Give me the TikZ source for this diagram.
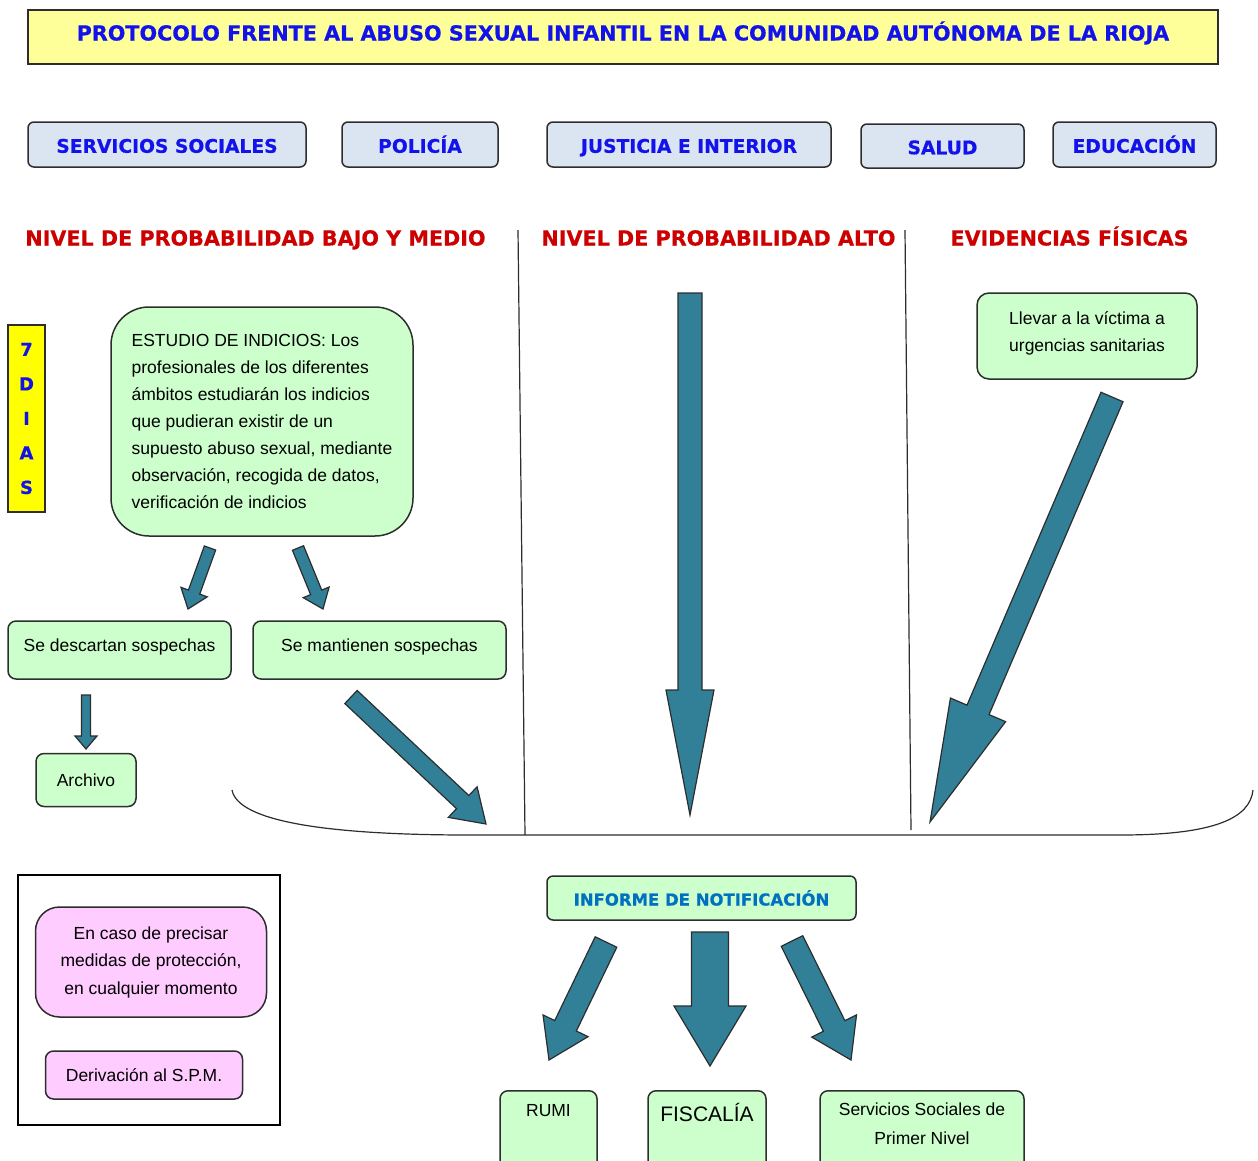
\documentclass[tikz,border=0pt]{standalone}
\usepackage{fontspec}
\setmainfont{Liberation Sans}
\newfontfamily\headfont{DejaVu Sans}[BoldFeatures={FakeBold=0.6}]
\usetikzlibrary{calc}

\definecolor{titlefill}{RGB}{255,255,153}
\definecolor{areafill}{RGB}{219,229,241}
\definecolor{boxgreen}{RGB}{204,255,204}
\definecolor{boxpink}{RGB}{255,204,255}
\definecolor{diasfill}{RGB}{255,255,0}
\definecolor{textblue}{RGB}{18,18,235}
\definecolor{textred}{RGB}{204,0,0}
\definecolor{informeblue}{RGB}{0,112,192}
\definecolor{arrowteal}{RGB}{49,128,152}
\definecolor{linegray}{RGB}{45,45,45}

\tikzset{
  titlebox/.style={draw=linegray, line width=1.5pt, fill=titlefill, inner sep=0pt,
    text height=15pt, text depth=8pt, text=textblue,
    font=\headfont\bfseries\fontsize{20.7}{24}\selectfont},
  areabox/.style={draw=linegray, line width=1.5pt, fill=areafill, rounded corners=6pt,
    minimum height=45pt, inner sep=0pt, text height=16.5pt, text depth=0pt, text=textblue,
    font=\headfont\bfseries\fontsize{18.7}{22}\selectfont},
  nivel/.style={text=textred, inner sep=0pt, text height=15pt, text depth=0pt,
    font=\headfont\bfseries\fontsize{20.7}{24}\selectfont},
  greenbox/.style={draw=linegray, line width=1.5pt, fill=boxgreen, rounded corners=8pt,
    inner sep=0pt, align=center, font=\fontsize{17.5}{27}\selectfont},
  pinkbox/.style={draw=linegray, line width=1.5pt, fill=boxpink, rounded corners=8pt,
    inner sep=0pt, align=center, font=\fontsize{17.5}{27.5}\selectfont},
  arrowpart/.style={fill=arrowteal, draw=linegray, line width=1.2pt, line join=miter},
}

% block arrow: start, tip, half shaft, half head, head length
\newcommand{\blockarrow}[5]{%
  \coordinate (hb) at ($(#2)!#5!(#1)$);
  \filldraw[arrowpart] ($(#1)!#3!90:(#2)$) -- ($(hb)!#3!90:(#2)$) -- ($(hb)!#4!90:(#2)$)
    -- (#2) -- ($(hb)!#4!-90:(#2)$) -- ($(hb)!#3!-90:(#2)$) -- ($(#1)!#3!-90:(#2)$) -- cycle;
}

\begin{document}
\begin{tikzpicture}[x=1pt, y=-1pt]
  \useasboundingbox (0,0) rectangle (1258,1160);

  % title and areas
  \node[titlebox, minimum width=1190pt, minimum height=54pt] (titulo) at (623,37)
    {PROTOCOLO FRENTE AL ABUSO SEXUAL INFANTIL EN LA COMUNIDAD AUTÓNOMA DE LA RIOJA};
  \node[areabox, minimum width=278pt] (ssociales) at (167,144.5) {SERVICIOS SOCIALES};
  \node[areabox, minimum width=156pt] (policia) at (420,144.5) {POLICÍA};
  \node[areabox, minimum width=284pt] (justicia) at (689,144.5) {JUSTICIA E INTERIOR};
  \node[areabox, minimum width=163pt, minimum height=44pt] (salud) at (942.5,146) {SALUD};
  \node[areabox, minimum width=163pt] (educacion) at (1134.5,144.5) {EDUCACIÓN};

  % levels
  \node[nivel] (bajo) at (255.5,238) {NIVEL DE PROBABILIDAD BAJO Y MEDIO};
  \node[nivel] (alto) at (718.5,238) {NIVEL DE PROBABILIDAD ALTO};
  \node[nivel] (evidencias) at (1069.5,238) {EVIDENCIAS FÍSICAS};

  \draw[linegray, line width=1.2pt] (518,230) -- (525,835);
  \draw[linegray, line width=1.2pt] (905,230) -- (911,830);
  \draw[linegray, line width=1.2pt] (232,790) .. controls (238,822) and (330,835) .. (470,835)
    -- (1120,835) .. controls (1215,835) and (1250,818) .. (1253,790);

  % bajo y medio
  \node[draw=linegray, line width=1.5pt, fill=diasfill, minimum width=37pt, minimum height=187pt,
    inner sep=0pt, align=center, text=textblue,
    font=\headfont\bfseries\fontsize{18}{34.5}\selectfont] (dias) at (26.5,418.5) {7\\D\\I\\A\\S};
  \node[greenbox, rounded corners=38pt, minimum width=302pt, minimum height=229pt,
    inner xsep=17pt, align=left] (estudio) at (262,421.5)
    {ESTUDIO DE INDICIOS: Los\\profesionales de los diferentes\\ámbitos estudiarán los indicios\\
     que pudieran existir de un\\supuesto abuso sexual, mediante\\observación, recogida de datos,\\
     verificación de indicios};
  \node[greenbox, minimum width=223pt, text height=30pt, text depth=28pt] (descartan)
    at (119.5,650) {Se descartan sospechas};
  \node[greenbox, minimum width=253pt, text height=30pt, text depth=28pt] (mantienen)
    at (379.5,650) {Se mantienen sospechas};
  \node[greenbox, minimum width=100pt, minimum height=53pt] (archivo) at (86,780) {Archivo};

  % evidencias
  \node[greenbox, rounded corners=12pt, minimum width=220pt, minimum height=86pt,
    text depth=9pt] (llevar) at (1087,336) {Llevar a la víctima a\\urgencias sanitarias};

  % notification
  \node[greenbox, rounded corners=6pt, minimum width=309pt, minimum height=44pt, text=informeblue,
    font=\headfont\bfseries\fontsize{16.5}{20}\selectfont] (informe) at (701.5,898)
    {INFORME DE NOTIFICACIÓN};
  \node[greenbox, anchor=north, minimum width=97pt, text height=26pt, text depth=64pt] (rumi)
    at (548.5,1090) {RUMI};
  \node[greenbox, anchor=north, minimum width=118pt, text height=31pt, text depth=59pt,
    font=\fontsize{21}{25}\selectfont] (fiscalia) at (707,1090) {FISCALÍA};
  \node[greenbox, anchor=north, minimum width=204pt, minimum height=90pt,
    font=\fontsize{17.5}{29}\selectfont] (sspn) at (922,1090)
    {Servicios Sociales de\\Primer Nivel\rule[-24pt]{0pt}{1pt}};

  % protection
  \node[draw=black, line width=1.5pt, minimum width=262pt, minimum height=250pt] (marco)
    at (149,1000) {};
  \node[pinkbox, rounded corners=24pt, minimum width=231pt, minimum height=110pt] (precisar)
    at (151,962) {En caso de precisar\\medidas de protección,\\en cualquier momento};
  \node[pinkbox, minimum width=197pt, minimum height=48pt] (spm) at (144,1075)
    {Derivación al S.P.M.};

  % arrows
  \coordinate (estL) at (210,548);   \coordinate (descT) at (188,609);
  \coordinate (estR) at (298,548);   \coordinate (mantT) at (323,609);
  \coordinate (descB) at (86,695);   \coordinate (archT) at (86,749);
  \coordinate (mantB) at (351,697);  \coordinate (llaveA) at (486,824);
  \coordinate (altoA) at (690,293);  \coordinate (llaveB) at (690,815);
  \coordinate (llevB) at (1112,397); \coordinate (llaveC) at (930,822);
  \coordinate (infL) at (606,942);   \coordinate (rumiT) at (549,1060);
  \coordinate (infC) at (710,932);   \coordinate (fiscT) at (710,1066);
  \coordinate (infR) at (792,941);   \coordinate (sspnT) at (851,1060);

  \blockarrow{estL}{descT}{6pt}{14pt}{18pt}
  \blockarrow{estR}{mantT}{6pt}{14pt}{18pt}
  \blockarrow{descB}{archT}{4.5pt}{11pt}{13pt}
  \blockarrow{mantB}{llaveA}{9pt}{21pt}{32pt}
  \blockarrow{altoA}{llaveB}{12pt}{24pt}{125pt}
  \blockarrow{llevB}{llaveC}{12pt}{30pt}{122pt}
  \blockarrow{infL}{rumiT}{12pt}{25pt}{38pt}
  \blockarrow{infC}{fiscT}{18.5pt}{36pt}{60pt}
  \blockarrow{infR}{sspnT}{12pt}{25pt}{38pt}
\end{tikzpicture}
\end{document}
